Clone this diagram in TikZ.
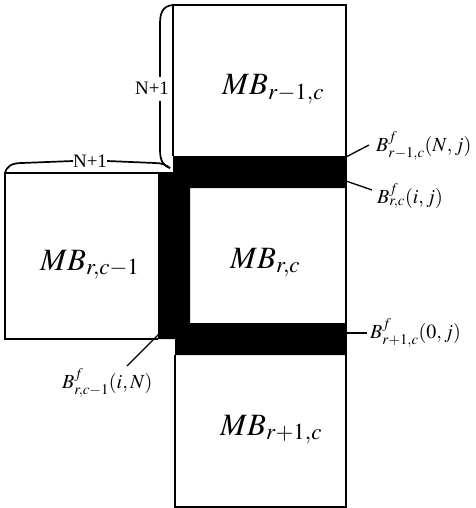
\documentclass[tikz,border=0pt]{standalone}
\usepackage{mathptmx}
\usepackage{fontspec}
\setmainfont{Liberation Serif}
\begin{document}
\begin{tikzpicture}[x=1pt,y=-1pt,
  edge/.style={line width=1.7pt, line join=miter},
  lead/.style={line width=1.3pt},
  mblab/.style={anchor=base west, inner sep=0pt, font=\fontsize{31}{31}\selectfont},
  blab/.style={anchor=base west, inner sep=0pt, font=\fontsize{20}{20}\selectfont},
  nlab/.style={inner sep=0pt, font=\fontsize{19}{19}\selectfont}]
\useasboundingbox (0,0) rectangle (475,508);
% black frame of the central block
\fill[black] (173,156) -- (346,156) -- (346,188) -- (190,188) -- (190,323) -- (346,323)
  -- (346,355) -- (175,355) -- (175,339) -- (158,339) -- (158,172) -- (173,172) -- cycle;
% outlines
\draw[edge] (173,156) -- (173,5) -- (346,5) -- (346,507) -- (175,507) -- (175,355);
\draw[edge] (158,173) -- (5,173) -- (5,339) -- (158,339);
% brackets
\coordinate (meet) at (170,168);
\node[nlab] (nv) at (152,88) {N+1};
\node[nlab] (nh) at (90,161) {N+1};
\draw[edge] (173,5) .. controls (163,6) and (160,12) .. (160,24) -- (160,77);
\draw[edge] (160,101) -- (160,150) .. controls (160,160) and (163,166) .. (meet);
\draw[edge] (5,174) .. controls (6,166) and (12,163) .. (22,163) -- (nh.west);
\draw[edge] (nh.east) -- (155,163) .. controls (162,163) and (166,165) .. (meet);
% block labels
\node[mblab] (mbt) at (222,95) {$MB_{r-1,c}$};
\node[mblab] (mbl) at (40,270) {$MB_{r,c-1}$};
\node[mblab] (mbc) at (230,268) {$MB_{r,c}$};
\node[mblab] (mbb) at (220,435) {$MB_{r+1,c}$};
% boundary labels
\node[blab] (b1) at (376,151) {$B^{f}_{r-1,c}(N,j)$};
\node[blab] (b2) at (377,203) {$B^{f}_{r,c}(i,j)$};
\node[blab] (b3) at (370,338) {$B^{f}_{r+1,c}(0,j)$};
\node[blab] (b4) at (62,388) {$B^{f}_{r,c-1}(i,N)$};
\coordinate (p1) at (346,157);
\coordinate (q1) at (369,145);
\coordinate (p2) at (346,181);
\coordinate (q2) at (372,190);
\coordinate (p3) at (346,333);
\coordinate (q3) at (367,333);
\coordinate (p4) at (160,333);
\coordinate (q4) at (127,366);
\draw[lead] (p1) -- (q1);
\draw[lead] (p2) -- (q2);
\draw[lead] (p3) -- (q3);
\draw[lead] (p4) -- (q4);
\end{tikzpicture}
\end{document}
